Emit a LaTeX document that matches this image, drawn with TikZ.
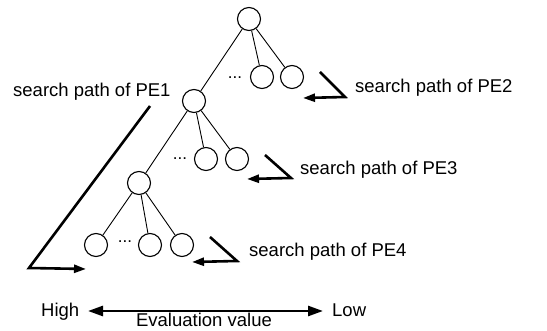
\documentclass[tikz,border=0pt]{standalone}
\usepackage{fontspec}
\setmainfont{Liberation Sans}
\usetikzlibrary{positioning,arrows.meta}

\begin{document}
\begin{tikzpicture}[x=1pt,y=-1pt,on grid,
		vertex/.style={circle,draw,line width=1.1pt,minimum size=23pt,inner sep=0pt},
		more/.style={anchor=base,inner sep=0pt,font=\fontsize{17}{18}\selectfont},
		pathline/.style={line width=2.6pt,-{Triangle[length=12pt,width=8pt]}},
		tag/.style={anchor=base west,inner sep=0pt,font=\fontsize{18.5}{22}\selectfont}]
		\useasboundingbox (0,0) rectangle (547,331);
		% tree
		\node[vertex](r) at (249,19) {};
		\node[vertex](a1)[below left=82pt and 55pt of r] {};
		\node[vertex](a2)[below right=58pt and 13pt of r] {};
		\node[vertex](a3)[below right=58pt and 43pt of r] {};
		\node[vertex](b1)[below left=82pt and 55pt of a1] {};
		\node[vertex](b2)[below right=58pt and 12pt of a1] {};
		\node[vertex](b3)[below right=58pt and 43pt of a1] {};
		\node[vertex](c1)[below left=62pt and 43pt of b1] {};
		\node[vertex](c2)[below right=62pt and 11pt of b1] {};
		\node[vertex](c3)[below right=62pt and 43pt of b1] {};
		\node[more](da) at (235,79) {...};
		\node[more](db) at (180,160) {...};
		\node[more](dc) at (125,243) {...};
		\draw[line width=0.9pt]
		(r) -- (a1) (r) -- (a2) (r) -- (a3)
		(a1) -- (b1) (a1) -- (b2) (a1) -- (b3)
		(b1) -- (c1) (b1) -- (c2) (b1) -- (c3);
		% search paths
		\coordinate (p1s) at (150,106);
		\coordinate (p1c) at (29,268);
		\coordinate (p1e) at (86,269);
		\coordinate (p2s) at (320,72);
		\coordinate (p2c) at (345,97);
		\coordinate (p2e) at (303,98);
		\coordinate (p3s) at (265,155);
		\coordinate (p3c) at (291,178);
		\coordinate (p3e) at (247,179);
		\coordinate (p4s) at (210,237);
		\coordinate (p4c) at (237,261);
		\coordinate (p4e) at (192,262);
		\draw[pathline,line join=miter] (p1s) -- (p1c) -- (p1e);
		\draw[pathline,line join=miter] (p2s) -- (p2c) -- (p2e);
		\draw[pathline,line join=miter] (p3s) -- (p3c) -- (p3e);
		\draw[pathline,line join=miter] (p4s) -- (p4c) -- (p4e);
		\node[tag](t1) at (13,97) {search path of PE1};
		\node[tag](t2) at (355,93) {search path of PE2};
		\node[tag](t3) at (300,175) {search path of PE3};
		\node[tag](t4) at (249,257) {search path of PE4};
		% evaluation axis
		\node[tag](high) at (41,317) {High};
		\node[tag](low) at (332,317) {Low};
		\node[tag,anchor=base](ev) at (204,327) {Evaluation value};
		\coordinate (hi) at (88,311);
		\coordinate (lo) at (323,311);
		\draw[line width=2.6pt,{Triangle[length=15pt,width=10pt]}-{Triangle[length=15pt,width=10pt]}] (hi) -- (lo);
\end{tikzpicture}
\end{document}
